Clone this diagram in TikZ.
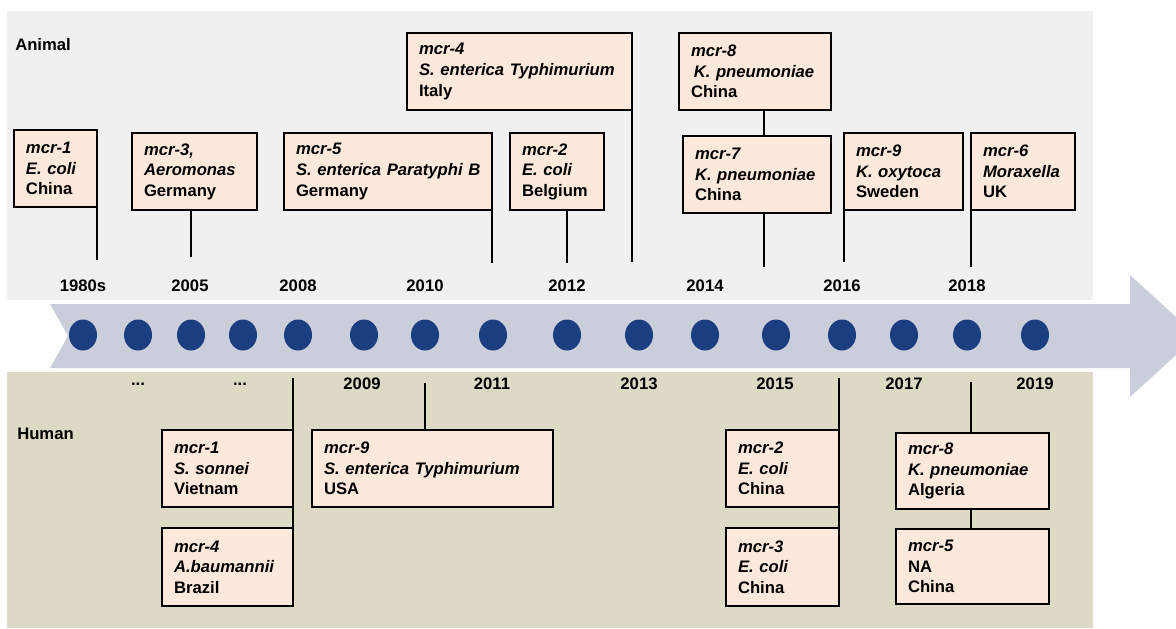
\documentclass[tikz,border=0pt]{standalone}
\usepackage{fontspec}
\setmainfont{Liberation Sans}
\usetikzlibrary{shapes.geometric}
\definecolor{animalbg}{RGB}{240,240,240}
\definecolor{humanbg}{RGB}{221,217,197}
\definecolor{bandcol}{RGB}{202,206,218}
\definecolor{dotcol}{RGB}{26,62,128}
\definecolor{cardfill}{RGB}{252,233,219}
\tikzset{
  card/.style={draw, fill=cardfill, line width=1.5pt, anchor=north west,
    align=left, inner xsep=9pt, inner ysep=0pt, outer sep=0pt},
  stem/.style={line width=1.5pt},
  year/.style={inner sep=0pt},
  dot/.style={ellipse, fill=dotcol, minimum width=21pt, minimum height=23.25pt, inner sep=0pt},
}
\begin{document}
\begin{tikzpicture}[x=0.75pt, y=-0.75pt, font=\fontsize{12.5}{15.4}\selectfont\bfseries]
    \useasboundingbox (0,0) rectangle (1176,628);
    % panels and time arrow
    \fill[animalbg] (7,11) rectangle (1093,300);
    \fill[humanbg] (7,372) rectangle (1093,628);
    \fill[bandcol] (50,304)--(1130,304)--(1130,275)--(1197,336)--(1130,397)--(1130,368)--(50,368)--(68,336)--cycle;
    \foreach \x [count=\i] in {83,138,191,243,298,364,425,493,567,639,705,776,842,904,967,1035}
        \node[dot] (d\i) at (\x,335) {};
    \node[year, anchor=west] (animal) at (15,45) {Animal};
    \node[year, anchor=west] (human) at (17,434) {Human};
    % years
    \foreach \yr/\x in {1980s/83, 2005/190, 2008/298, 2010/425, 2012/567, 2014/705, 2016/842, 2018/967}
        \node[year] (y\yr) at (\x,286) {\yr};
    \node[year] (gap1) at (138,384) {...};
    \node[year] (gap2) at (240,384) {...};
    \foreach \yr/\x in {2009/362, 2011/492, 2013/639, 2015/775, 2017/904, 2019/1035}
        \node[year] (y\yr) at (\x,384) {\yr};
    % animal cards
    \node[card, text width=44.25pt, minimum height=57.75pt] (a1) at (14,130) {\textit{mcr-1}\\\textit{E. coli}\\China};
    \node[card, text width=75.75pt, minimum height=57.75pt] (a2) at (132,133) {\textit{mcr-3,}\\\textit{Aeromonas}\\Germany};
    \node[card, text width=138pt, minimum height=57.75pt] (a3) at (284,133) {\textit{mcr-5}\\\mbox{\textit{S. enterica Paratyphi B}}\\Germany};
    \node[card, text width=150.75pt, minimum height=57.75pt] (a4) at (407,33) {\textit{mcr-4}\\\textit{S. enterica Typhimurium}\\Italy};
    \node[card, text width=52.5pt, minimum height=57.75pt] (a5) at (510,133) {\textit{mcr-2}\\\textit{E. coli}\\Belgium};
    \node[card, text width=96pt, minimum height=57.75pt] (a6) at (679,33) {\textit{mcr-8}\\\textit{\,K. pneumoniae}\\China};
    \node[card, text width=93pt, minimum height=57.75pt] (a7) at (683,136) {\textit{mcr-7}\\\textit{K. pneumoniae}\\China};
    \node[card, text width=71.25pt, minimum height=57.75pt] (a8) at (844,133) {\textit{mcr-9}\\\textit{K. oxytoca}\\Sweden};
    \node[card, text width=60pt, minimum height=57.75pt] (a9) at (971,133) {\textit{mcr-6}\\\textit{Moraxella}\\UK};
    % human cards
    \node[card, text width=80.25pt, minimum height=57.75pt] (h1) at (162,430) {\textit{mcr-1}\\\textit{S. sonnei}\\Vietnam};
    \node[card, text width=80.25pt, minimum height=58.5pt] (h2) at (162,528) {\textit{mcr-4}\\\textit{A.baumannii}\\Brazil};
    \node[card, text width=162.75pt, minimum height=57.75pt] (h3) at (312,430) {\textit{mcr-9}\\\textit{S. enterica Typhimurium}\\USA};
    \node[card, text width=66.75pt, minimum height=57.75pt] (h4) at (726,430) {\textit{mcr-2}\\\textit{E. coli}\\China};
    \node[card, text width=66.75pt, minimum height=58.5pt] (h5) at (726,528) {\textit{mcr-3}\\\textit{E. coli}\\China};
    \node[card, text width=96.75pt, minimum height=57pt] (h6) at (896,433) {\textit{mcr-8}\\\textit{K. pneumoniae}\\Algeria};
    \node[card, text width=96.75pt, minimum height=56.25pt] (h7) at (896,529) {\textit{mcr-5}\\NA\\China};
    % stems
    \coordinate (s1) at (97,260);
    \coordinate (s2) at (191,257);
    \coordinate (s3) at (492,263);
    \coordinate (s4) at (632,262);
    \coordinate (s5) at (567,263);
    \coordinate (s7) at (764,267);
    \coordinate (s8) at (844,262);
    \coordinate (s9) at (971,267);
    \draw[stem] (s1 |- a1.south)--(s1);
    \draw[stem] (s2 |- a2.south)--(s2);
    \draw[stem] (s3 |- a3.south)--(s3);
    \draw[stem] (s4 |- a4.south)--(s4);
    \draw[stem] (s5 |- a5.south)--(s5);
    \draw[stem] (s7 |- a6.south)--(s7 |- a7.north);
    \draw[stem] (s7 |- a7.south)--(s7);
    \draw[stem] (s8 |- a8.south)--(s8);
    \draw[stem] (s9 |- a9.south)--(s9);
    \coordinate (t1) at (293,378);
    \coordinate (t2) at (425,383);
    \coordinate (t3) at (839,378);
    \coordinate (t4) at (971,382);
    \draw[stem] (t1)--(t1 |- h2.north);
    \draw[stem] (t2)--(t2 |- h3.north);
    \draw[stem] (t3)--(t3 |- h5.north);
    \draw[stem] (t4)--(t4 |- h6.north);
    \draw[stem] (t4 |- h6.south)--(t4 |- h7.north);
\end{tikzpicture}
\end{document}
